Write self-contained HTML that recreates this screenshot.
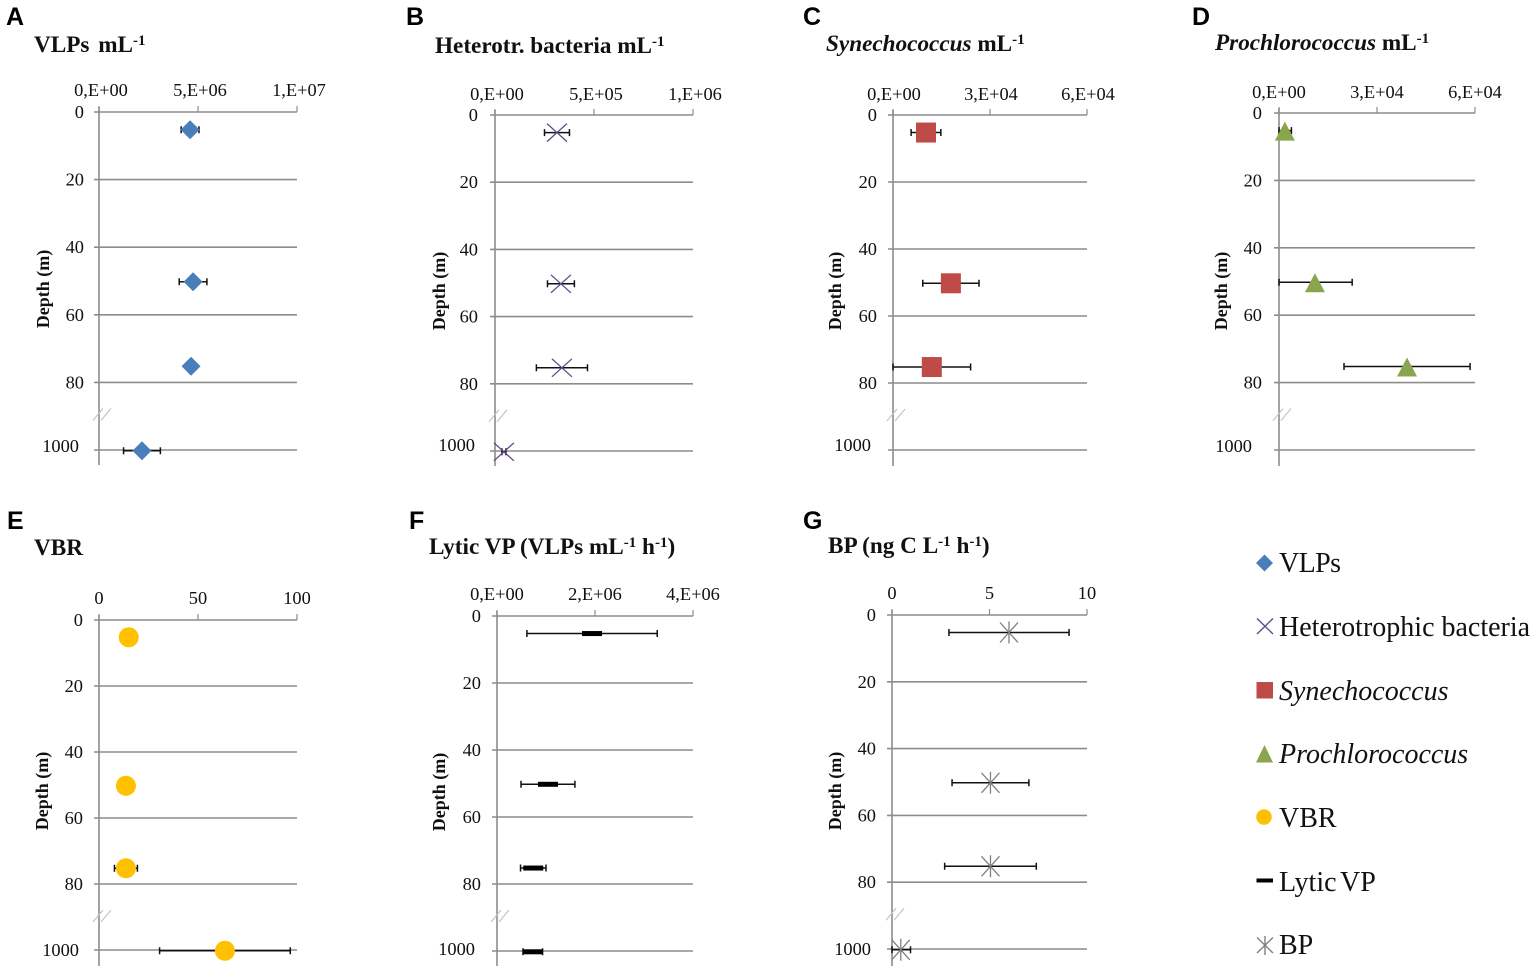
<!DOCTYPE html>
<html lang="en">
<head>
<meta charset="utf-8">
<title>Depth profiles</title>
<style>
html,body{margin:0;padding:0;background:#fff;width:1535px;height:973px;overflow:hidden}
svg{display:block;font-family:"Liberation Serif",serif;fill:#111}
.letter{font-family:"Liberation Sans",sans-serif;font-weight:700;font-size:25px;fill:#000}
.title{font-weight:700;font-size:23.2px;fill:#111}
.legend{font-size:28px;fill:#111}
.sup{font-size:15px}
</style>
</head>
<body>
<svg id="chart" xmlns="http://www.w3.org/2000/svg" width="1535" height="973" viewBox="0 0 1535 973">
  <text class="letter" x="6" y="25">A</text>
  <text class="letter" x="406" y="25">B</text>
  <text class="letter" x="803" y="25">C</text>
  <text class="letter" x="1192" y="25">D</text>
  <text class="letter" x="7" y="529">E</text>
  <text class="letter" x="409" y="529">F</text>
  <text class="letter" x="803" y="529">G</text>

  <text class="title" x="34" y="52">VLPs <tspan dx="3">mL</tspan><tspan class="sup" dy="-7">-1</tspan></text>
  <text class="title" x="435" y="53">Heterotr. bacteria mL<tspan class="sup" dy="-7">-1</tspan></text>
  <text class="title" x="826" y="51"><tspan font-style="italic">Synechococcus</tspan> mL<tspan class="sup" dy="-7">-1</tspan></text>
  <text class="title" x="1215" y="50"><tspan font-style="italic">Prochlorococcus</tspan> mL<tspan class="sup" dy="-7">-1</tspan></text>
  <text class="title" x="34" y="555">VBR</text>
  <text class="title" x="429" y="554">Lytic VP (VLPs mL<tspan class="sup" dy="-7">-1</tspan><tspan dy="7"> h</tspan><tspan class="sup" dy="-7">-1</tspan><tspan dy="7">)</tspan></text>
  <text class="title" x="828" y="553">BP (ng C L<tspan class="sup" dy="-7">-1</tspan><tspan dy="7"> h</tspan><tspan class="sup" dy="-7">-1</tspan><tspan dy="7">)</tspan></text>

  <g id="panels"></g>

  <g>
    <g>
      <polygon points="1264.5,554.5 1273,563 1264.5,571.5 1256,563" fill="#4a7ebb"/>
      <text class="legend" x="1279" y="572" letter-spacing="-0.6">VLPs</text>
    </g>
    <g>
      <path d="M1257,618.5 L1273,634 M1273,618.5 L1257,634" stroke="#5f4a8b" stroke-width="1.4" fill="none"/>
      <text class="legend" x="1279" y="636">Heterotrophic bacteria</text>
    </g>
    <g>
      <rect x="1256.5" y="682" width="16.5" height="16.5" fill="#be4b48"/>
      <text class="legend" x="1279" y="700" font-style="italic">Synechococcus</text>
    </g>
    <g>
      <polygon points="1264.5,745 1273,762.5 1256,762.5" fill="#89a54e"/>
      <text class="legend" x="1279" y="763" font-style="italic">Prochlorococcus</text>
    </g>
    <g>
      <circle cx="1264" cy="817" r="7.8" fill="#ffc000"/>
      <text class="legend" x="1279" y="827">VBR</text>
    </g>
    <g>
      <rect x="1256.5" y="878.5" width="16.5" height="4" fill="#000"/>
      <text class="legend" x="1279" y="891">Lytic <tspan dx="-3">VP</tspan></text>
    </g>
    <g>
      <path d="M1257,937.5 L1273,953 M1273,937.5 L1257,953 M1265,936 L1265,955" stroke="#808080" stroke-width="1.4" fill="none"/>
      <text class="legend" x="1279" y="954">BP</text>
    </g>
  </g>
</svg>
<script>
// Shared depth axis
const depthCategories = [0, 20, 40, 60, 80, 1000];
const sampleDepths = [5, 50, 75, 1000];

// Panel A: VLPs mL-1
const vlpTicks = [0, 5e6, 1e7];
const vlpTickLabels = ['0,E+00', '5,E+06', '1,E+07'];
const vlpValues = [4.6e6, 4.75e6, 4.65e6, 2.17e6];
const vlpErrors = [0.45e6, 0.7e6, 0, 0.93e6];

// Panel B: Heterotrophic bacteria mL-1
const bacteriaTicks = [0, 5e5, 1e6];
const bacteriaTickLabels = ['0,E+00', '5,E+05', '1,E+06'];
const bacteriaValues = [3.13e5, 3.33e5, 3.38e5, 0.45e5];
const bacteriaErrors = [0.63e5, 0.68e5, 1.29e5, 0.1e5];

// Panel C: Synechococcus mL-1
const synTicks = [0, 3e4, 6e4];
const synTickLabels = ['0,E+00', '3,E+04', '6,E+04'];
const synValues = [1.02e4, 1.79e4, 1.2e4, null];
const synErrors = [0.46e4, 0.87e4, 1.2e4, null];

// Panel D: Prochlorococcus mL-1
const proTicks = [0, 3e4, 6e4];
const proTickLabels = ['0,E+00', '3,E+04', '6,E+04'];
const proValues = [0.18e4, 1.1e4, 3.92e4, null];
const proErrors = [0.2e4, 1.14e4, 1.93e4, null];

// Panel E: VBR
const vbrTicks = [0, 50, 100];
const vbrTickLabels = ['0', '50', '100'];
const vbrValues = [15, 13.6, 13.6, 63.6];
const vbrErrors = [0, 0, 5.8, 33];

// Panel F: Lytic VP
const lyticTicks = [0, 2e6, 4e6];
const lyticTickLabels = ['0,E+00', '2,E+06', '4,E+06'];
const lyticValues = [1.94e6, 1.04e6, 0.74e6, 0.73e6];
const lyticErrors = [1.33e6, 0.55e6, 0.26e6, 0.2e6];

// Panel G: BP
const bpTicks = [0, 5, 10];
const bpTickLabels = ['0', '5', '10'];
const bpValues = [6.0, 5.05, 5.05, 0.45];
const bpErrors = [3.08, 1.97, 2.35, 0.5];

// Panel frames
const panels = [
  {id:'a', left:99,   right:297,  top:112, bottom:450, tickY:96,  tickDx:2, depthX:84,  bigX:79,  bigDy:0, titleX:49,  titleY:289, axisEnd:465, ticks:vlpTicks,      labels:vlpTickLabels,      values:vlpValues,      errors:vlpErrors,      marker:'diamond'},
  {id:'b', left:495,  right:693,  top:115, bottom:451, tickY:100, tickDx:2, depthX:478, bigX:475, bigDy:-2,titleX:445, titleY:291, axisEnd:466, ticks:bacteriaTicks, labels:bacteriaTickLabels, values:bacteriaValues, errors:bacteriaErrors, marker:'cross'},
  {id:'c', left:893,  right:1087, top:115, bottom:450, tickY:100, tickDx:1, depthX:877, bigX:871, bigDy:-1,titleX:841, titleY:291, axisEnd:466, ticks:synTicks,      labels:synTickLabels,      values:synValues,      errors:synErrors,      marker:'square'},
  {id:'d', left:1279, right:1475, top:113, bottom:450, tickY:98,  tickDx:0, depthX:1262,bigX:1252,bigDy:0, titleX:1227,titleY:291, axisEnd:466, ticks:proTicks,      labels:proTickLabels,      values:proValues,      errors:proErrors,      marker:'triangle'},
  {id:'e', left:99,   right:297,  top:620, bottom:950, tickY:604, tickDx:0, depthX:83,  bigX:79,  bigDy:4, titleX:48,  titleY:791, axisEnd:966, ticks:vbrTicks,      labels:vbrTickLabels,      values:vbrValues,      errors:vbrErrors,      marker:'circle'},
  {id:'f', left:497,  right:693,  top:616, bottom:951, tickY:600, tickDx:0, depthX:481, bigX:475, bigDy:2, titleX:445, titleY:792, axisEnd:966, ticks:lyticTicks,    labels:lyticTickLabels,    values:lyticValues,    errors:lyticErrors,    marker:'dash'},
  {id:'g', left:892,  right:1087, top:615, bottom:949, tickY:599, tickDx:0, depthX:876, bigX:871, bigDy:4, titleX:841, titleY:791, axisEnd:966, ticks:bpTicks,       labels:bpTickLabels,       values:bpValues,       errors:bpErrors,       marker:'star'}
];

const SVG_NS = 'http://www.w3.org/2000/svg';
const AXIS_COLOR = '#8c8c8c';
const MARK_NUDGE = 0.8;
const root = document.getElementById('panels');

function node(parent, tag, props, text) {
  const el = document.createElementNS(SVG_NS, tag);
  for (const k in props) el.setAttribute(k, props[k]);
  if (text !== undefined) el.textContent = text;
  parent.appendChild(el);
  return el;
}

function xAxisScale(p, v) {
  const max = p.ticks[p.ticks.length - 1];
  return p.left + (v - p.ticks[0]) / (max - p.ticks[0]) * (p.right - p.left);
}

function depthScale(p, d) {
  const step = (p.bottom - p.top) / (depthCategories.length - 1);
  for (let i = 0; i < depthCategories.length - 1; i++) {
    const a = depthCategories[i], b = depthCategories[i + 1];
    if (d <= b) return p.top + (i + (d - a) / (b - a)) * step;
  }
  return p.bottom;
}

function drawMarker(g, kind, x, y) {
  let el;
  if (kind === 'diamond') {
    el = node(g, 'polygon', {points: [x, y - 9.5, x + 9.5, y, x, y + 9.5, x - 9.5, y].join(' '), fill: '#4a7ebb'});
  } else if (kind === 'cross') {
    el = node(g, 'path', {d: `M${x - 10},${y - 9}L${x + 10},${y + 9}M${x + 10},${y - 9}L${x - 10},${y + 9}`, stroke: '#5f4a8b', 'stroke-width': 1.3, fill: 'none'});
  } else if (kind === 'square') {
    el = node(g, 'rect', {x: x - 10, y: y - 10, width: 20, height: 20, fill: '#be4b48'});
  } else if (kind === 'triangle') {
    el = node(g, 'polygon', {points: [x, y - 9, x + 10, y + 10, x - 10, y + 10].join(' '), fill: '#89a54e'});
  } else if (kind === 'circle') {
    el = node(g, 'circle', {cx: x, cy: y, r: 10, fill: '#ffc000'});
  } else if (kind === 'dash') {
    el = node(g, 'rect', {x: x - 10, y: y - 2.5, width: 20, height: 5, fill: '#000'});
  } else {
    el = node(g, 'path', {d: `M${x - 9},${y - 10}L${x + 9},${y + 10}M${x + 9},${y - 10}L${x - 9},${y + 10}M${x},${y - 11}L${x},${y + 11}`, stroke: '#808080', 'stroke-width': 1.3, fill: 'none'});
  }
  return el;
}

panels.forEach(function (p) {
  const g = node(root, 'g', {});
  
  

  const grid = {stroke: AXIS_COLOR, 'stroke-width': 1.6, fill: 'none'};

  // Horizontal depth gridlines and labels
  depthCategories.forEach(function (d) {
    const y = depthScale(p, d);
    const line = node(g, 'line', Object.assign({x1: p.left - 5, x2: p.right, y1: y, y2: y}, grid));
    
    
    const big = d === 1000;
    const label = node(g, 'text', {x: big ? p.bigX : p.depthX, y: y + (big ? 2 + p.bigDy : 6), 'text-anchor': 'end', 'font-size': 18.4}, String(d));
    
    
  });

  // Vertical axis
  const axis = node(g, 'line', Object.assign({x1: p.left, x2: p.left, y1: p.top - 5, y2: p.axisEnd}, grid));
  
  

  // Top axis ticks and labels
  p.ticks.forEach(function (t, i) {
    const x = xAxisScale(p, t);
    const tick = node(g, 'line', {x1: x, x2: x, y1: p.top - 6, y2: p.top, stroke: AXIS_COLOR, 'stroke-width': 1.2});
    
    
    const label = node(g, 'text', {x: x + p.tickDx, y: p.tickY, 'text-anchor': 'middle', 'font-size': 18.4}, p.labels[i]);
    
    
  });

  // Axis break between 80 and 1000
  const breakY = depthScale(p, 80) + 32;
  [0, 8].forEach(function (offset) {
    const br = node(g, 'line', {x1: p.left - 6 + offset, y1: breakY + 6, x2: p.left + 4 + offset, y2: breakY - 6, stroke: '#c4c4c4', 'stroke-width': 1.2});
    
    
  });

  // Depth axis title
  const title = node(g, 'text', {transform: `translate(${p.titleX},${p.titleY}) rotate(-90)`, 'text-anchor': 'middle', 'font-size': 18, 'font-weight': 700}, 'Depth (m)');
  
  

  // Error bars beneath markers
  sampleDepths.forEach(function (d, i) {
    const v = p.values[i];
    if (v === null) return;
    const e = p.errors[i];
    if (e === 0) return;
    const y = depthScale(p, d) + MARK_NUDGE;
    const lo = xAxisScale(p, Math.max(0, v - e));
    const hi = xAxisScale(p, v + e);
    const bar = node(g, 'path', {d: `M${lo},${y}L${hi},${y}M${lo},${y - 3.5}L${lo},${y + 3.5}M${hi},${y - 3.5}L${hi},${y + 3.5}`, stroke: '#111', 'stroke-width': 1.5, fill: 'none'});
    
    
  });

  // Markers
  sampleDepths.forEach(function (d, i) {
    const v = p.values[i];
    if (v === null) return;
    const mark = drawMarker(g, p.marker, xAxisScale(p, v), depthScale(p, d) + MARK_NUDGE);
    
    
  });
});
</script>
</body>
</html>
